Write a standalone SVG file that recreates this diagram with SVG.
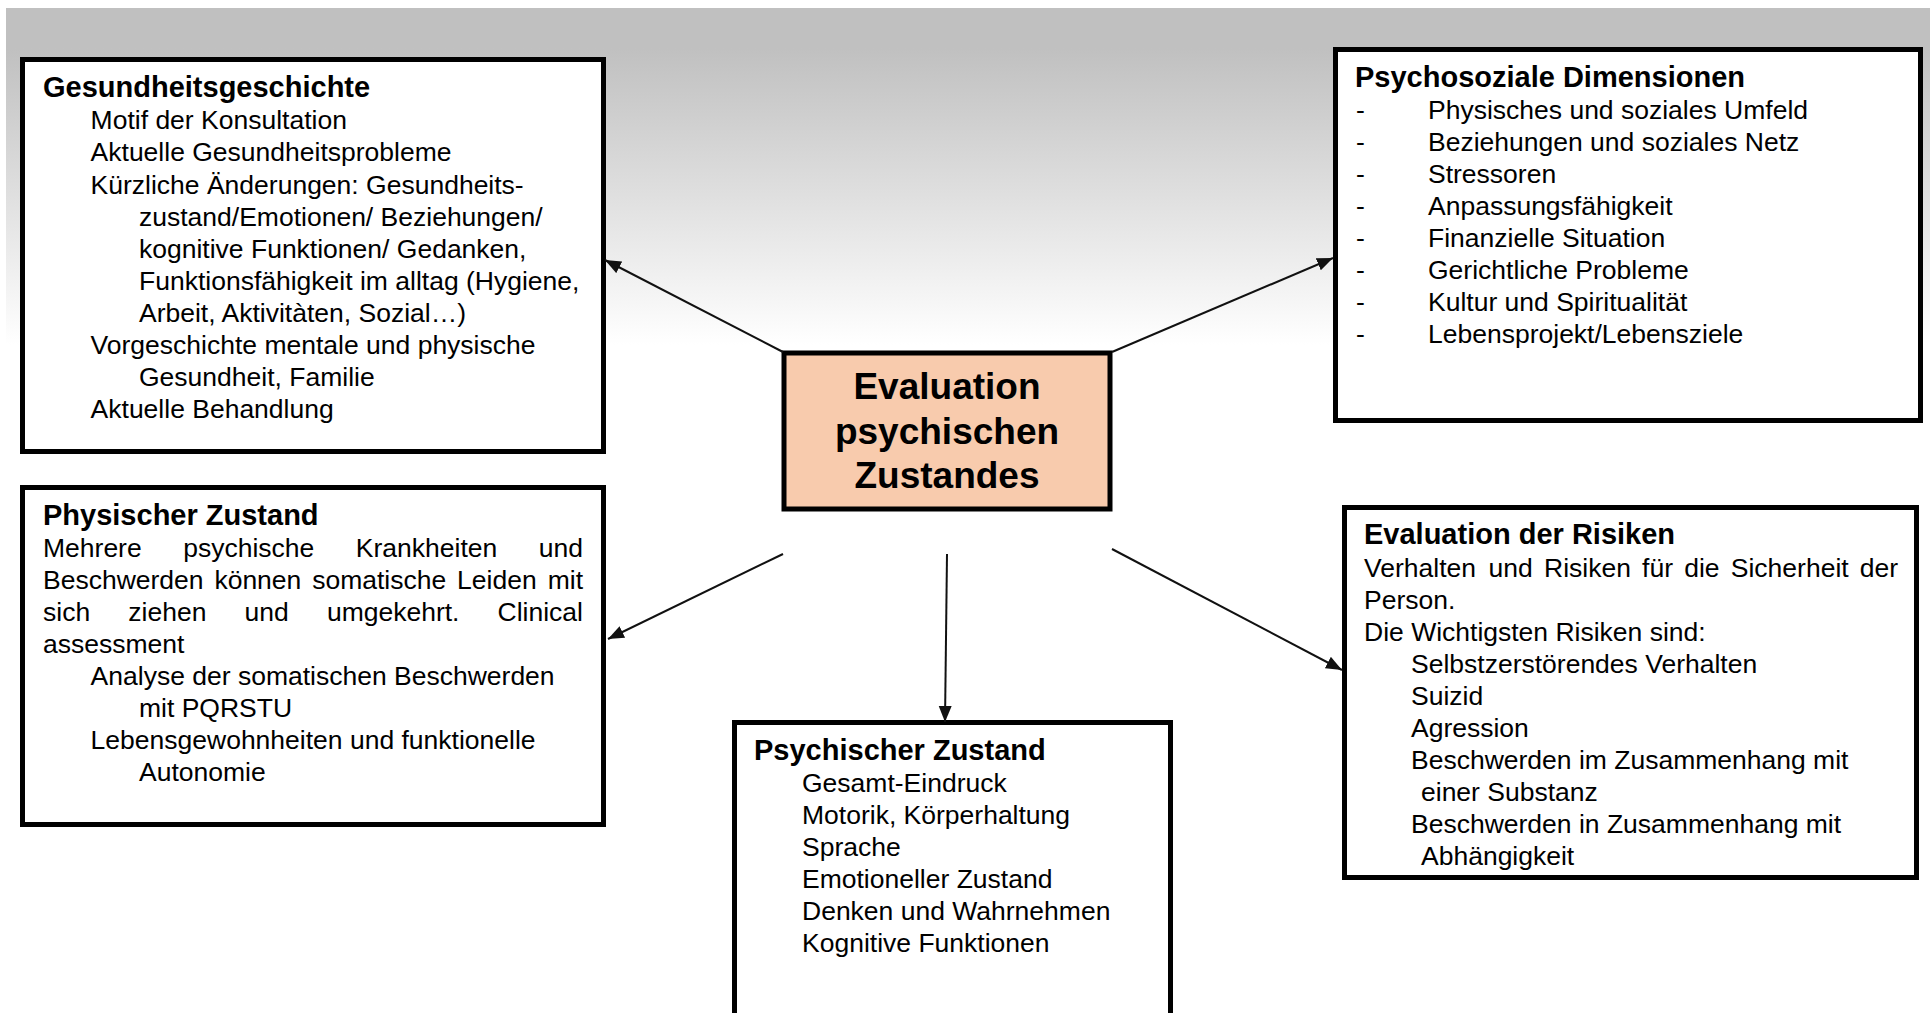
<svg xmlns="http://www.w3.org/2000/svg" width="1930" height="1013" viewBox="0 0 1930 1013">
<defs>
<linearGradient id="bg" x1="0" y1="8" x2="0" y2="345" gradientUnits="userSpaceOnUse">
<stop offset="0" stop-color="#c0c0c0"/>
<stop offset="0.12" stop-color="#c0c0c0"/>
<stop offset="1" stop-color="#ffffff"/>
</linearGradient>
<marker id="arr" markerUnits="userSpaceOnUse" markerWidth="17" markerHeight="14" refX="16" refY="6.5" orient="auto">
<path d="M0,0 L16,6.5 L0,13 z" fill="#111"/>
</marker>
<style>
text{font-family:"Liberation Sans",Arial,sans-serif;fill:#000}
.t{font-size:29px;font-weight:bold}
.b{font-size:26.5px}
.c{font-size:37px;font-weight:bold;text-anchor:middle}
.e{text-anchor:end}
.box{fill:#fff;stroke:#000;stroke-width:5}
.conn line{stroke:#111;stroke-width:2;marker-end:url(#arr)}
</style>
</defs>
<rect x="0" y="0" width="1930" height="1013" fill="#fff"/>
<rect x="6" y="8" width="1924" height="340" fill="url(#bg)"/>

<g id="gesundheitsgeschichte">
<rect class="box" x="22.5" y="59.5" width="581" height="392"/>
<text class="t" x="43" y="97">Gesundheitsgeschichte</text>
<text class="b" x="90.6" y="129">Motif der Konsultation</text>
<text class="b" x="90.6" y="161">Aktuelle Gesundheitsprobleme</text>
<text class="b" x="90.6" y="193.5">Kürzliche Änderungen: Gesundheits-</text>
<text class="b" x="139" y="225.5">zustand/Emotionen/ Beziehungen/</text>
<text class="b" x="139" y="257.5">kognitive Funktionen/ Gedanken,</text>
<text class="b" x="139" y="289.5">Funktionsfähigkeit im alltag (Hygiene,</text>
<text class="b" x="139" y="321.5">Arbeit, Aktivitàten, Sozial…)</text>
<text class="b" x="90.6" y="353.5">Vorgeschichte mentale und physische</text>
<text class="b" x="139" y="385.5">Gesundheit, Familie</text>
<text class="b" x="90.6" y="418">Aktuelle Behandlung</text>
</g>

<g id="psychosoziale">
<rect class="box" x="1335.5" y="49.5" width="585" height="371"/>
<text class="t" x="1355" y="87">Psychosoziale Dimensionen</text>
<text class="b" x="1356" y="119">-</text><text class="b" x="1428" y="119">Physisches und soziales Umfeld</text>
<text class="b" x="1356" y="151">-</text><text class="b" x="1428" y="151">Beziehungen und soziales Netz</text>
<text class="b" x="1356" y="183">-</text><text class="b" x="1428" y="183">Stressoren</text>
<text class="b" x="1356" y="215">-</text><text class="b" x="1428" y="215">Anpassungsfähigkeit</text>
<text class="b" x="1356" y="247">-</text><text class="b" x="1428" y="247">Finanzielle Situation</text>
<text class="b" x="1356" y="279">-</text><text class="b" x="1428" y="279">Gerichtliche Probleme</text>
<text class="b" x="1356" y="311">-</text><text class="b" x="1428" y="311">Kultur und Spiritualität</text>
<text class="b" x="1356" y="343">-</text><text class="b" x="1428" y="343">Lebensprojekt/Lebensziele</text>
</g>

<g id="physischer">
<rect class="box" x="22.5" y="487.5" width="581" height="337"/>
<text class="t" x="43" y="525">Physischer Zustand</text>
<text class="b" y="557"><tspan x="43">Mehrere</tspan><tspan x="183.2">psychische</tspan><tspan x="355.8">Krankheiten</tspan></text>
<text class="b e" x="583" y="557">und</text>
<text class="b" y="589"><tspan x="43">Beschwerden</tspan><tspan x="214.4">können</tspan><tspan x="312.2">somatische</tspan><tspan x="457.1">Leiden</tspan></text>
<text class="b e" x="583" y="589">mit</text>
<text class="b" y="621"><tspan x="43">sich</tspan><tspan x="128.3">ziehen</tspan><tspan x="244.5">und</tspan><tspan x="326.9">umgekehrt.</tspan></text>
<text class="b e" x="583" y="621">Clinical</text>
<text class="b" x="43" y="653">assessment</text>
<text class="b" x="90.6" y="685">Analyse der somatischen Beschwerden</text>
<text class="b" x="139" y="717">mit PQRSTU</text>
<text class="b" x="90.6" y="749">Lebensgewohnheiten und funktionelle</text>
<text class="b" x="139" y="781">Autonomie</text>
</g>

<g id="risiken">
<rect class="box" x="1344.5" y="507.5" width="572" height="370"/>
<text class="t" x="1364" y="544">Evaluation der Risiken</text>
<text class="b" y="577"><tspan x="1364">Verhalten</tspan><tspan x="1488.6">und</tspan><tspan x="1544">Risiken</tspan><tspan x="1642.1">für</tspan><tspan x="1684.2">die</tspan><tspan x="1730.8">Sicherheit</tspan></text>
<text class="b e" x="1898" y="577">der</text>
<text class="b" x="1364" y="609">Person.</text>
<text class="b" x="1364" y="641">Die Wichtigsten Risiken sind:</text>
<text class="b" x="1411" y="673">Selbstzerstörendes Verhalten</text>
<text class="b" x="1411" y="705">Suizid</text>
<text class="b" x="1411" y="737">Agression</text>
<text class="b" x="1411" y="769">Beschwerden im Zusammenhang mit</text>
<text class="b" x="1421" y="801">einer Substanz</text>
<text class="b" x="1411" y="833">Beschwerden in Zusammenhang mit</text>
<text class="b" x="1421" y="865">Abhängigkeit</text>
</g>

<g id="psychischer">
<rect class="box" x="734.5" y="722.5" width="436" height="330"/>
<text class="t" x="754" y="760">Psychischer Zustand</text>
<text class="b" x="802" y="792">Gesamt-Eindruck</text>
<text class="b" x="802" y="824">Motorik, Körperhaltung</text>
<text class="b" x="802" y="856">Sprache</text>
<text class="b" x="802" y="888">Emotioneller Zustand</text>
<text class="b" x="802" y="920">Denken und Wahrnehmen</text>
<text class="b" x="802" y="952">Kognitive Funktionen</text>
</g>

<g id="zentrum">
<rect x="784" y="353" width="326" height="156" fill="#f8cbad" stroke="#000" stroke-width="5"/>
<text class="c" x="947" y="399">Evaluation</text>
<text class="c" x="947" y="444">psychischen</text>
<text class="c" x="947" y="488">Zustandes</text>
</g>

<g id="connectors" class="conn">
<line x1="783" y1="352" x2="605" y2="260"/>
<line x1="1112" y1="352" x2="1333" y2="258"/>
<line x1="783" y1="554" x2="608" y2="639"/>
<line x1="947" y1="554" x2="945" y2="722"/>
<line x1="1112" y1="549" x2="1342" y2="670"/>
</g>
</svg>
